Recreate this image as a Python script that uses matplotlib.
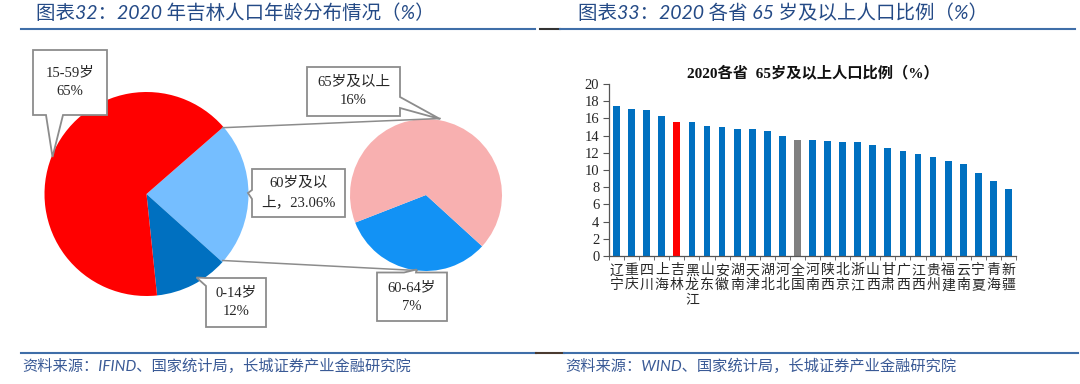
import numpy as np
import matplotlib
matplotlib.use("Agg")
import matplotlib.pyplot as plt
from matplotlib.patches import Polygon

# ---- data ----
age_groups = ["60岁及以上", "0-14岁", "15-59岁"]
age_share = [23.06, 11.71, 65.23]
old_groups = ["60-64岁", "65岁及以上"]
old_share = [7.45, 15.61]

provinces = ["辽宁", "重庆", "四川", "上海", "吉林", "黑龙江", "山东", "安徽", "湖南",
             "天津", "湖北", "河北", "全国", "河南", "陕西", "北京", "浙江", "山西",
             "甘肃", "广西", "江西", "贵州", "福建", "云南", "宁夏", "青海", "新疆"]
share_65 = [17.42, 17.08, 16.93, 16.28, 15.61, 15.61, 15.13, 15.01, 14.81,
            14.75, 14.59, 13.92, 13.50, 13.49, 13.32, 13.30, 13.27, 12.90,
            12.58, 12.20, 11.89, 11.56, 11.10, 10.75, 9.62, 8.68, 7.76]

W, H = 1080, 384
SERIF = ["Liberation Serif", "Noto Sans CJK SC"]
TITLE_FONT = ["Lato", "Noto Sans CJK SC"]
TITLE_C = "#244a86"
LINE_C = "#3f6ea8"
GREY = "#8c8c8c"

fig = plt.figure(figsize=(W / 100, H / 100), dpi=100)
ax = fig.add_axes([0, 0, 1, 1])


def py(y):
    # pixel row (top origin) -> data y
    return H - y


# ---- left: pie of pie ----
ax.pie(age_share, colors=["#75beff", "#0070c0", "#ff0000"], startangle=41.1,
       counterclock=False, radius=102, center=(146.5, py(194)),
       wedgeprops=dict(linewidth=0))
ax.pie(old_share, colors=["#1292f5", "#f8b0b0"], startangle=201.3,
       counterclock=True, radius=76, center=(426, py(195)),
       wedgeprops=dict(linewidth=0))
ax.set_xlim(0, W)
ax.set_ylim(0, H)
ax.set_aspect("auto")
ax.axis("off")

# connector lines between the two pies
ax.plot([222.7, 440], [py(127.7), py(118.5)], color=GREY, lw=1.1, zorder=3)
ax.plot([222.7, 417], [py(260.5), py(270.5)], color=GREY, lw=1.1, zorder=3)


def callout(box, side, a, b, tip, text):
    x0, y0, x1, y1 = box
    tl, tr, br, bl = (x0, y0), (x1, y0), (x1, y1), (x0, y1)
    if side == "top":
        pts = [tl, (a, y0), tip, (b, y0), tr, br, bl]
    elif side == "right":
        pts = [tl, tr, (x1, a), tip, (x1, b), br, bl]
    elif side == "bottom":
        pts = [tl, tr, br, (b, y1), tip, (a, y1), bl]
    else:
        pts = [tl, tr, br, bl, (x0, b), tip, (x0, a)]
    pts = [(x, py(y)) for x, y in pts]
    ax.add_patch(Polygon(pts, closed=True, fc="white", ec=GREY, lw=1.3, zorder=5))
    ax.text((x0 + x1) / 2, py((y0 + y1) / 2), text, ha="center", va="center",
            fontsize=10.5, family=SERIF, color="#262626", linespacing=1.55, zorder=6)


lbl = [f"{g}\n{v:.0f}%" for g, v in zip(age_groups, age_share)]
lbl[0] = "60岁及以\n上，%.2f%%" % age_share[0]
old_lbl = [f"{g}\n{v:.0f}%" for g, v in zip(old_groups, old_share)]

callout((33, 50, 107, 115), "bottom", 46, 63, (52.5, 157), lbl[2])
callout((252, 169, 345, 217), "left", 190, 199, (248, 193), lbl[0])
callout((206, 278, 266, 327), "left", 278, 286, (196.5, 277.5), lbl[1])
callout((307, 67, 400, 116), "right", 97, 108, (440, 119), old_lbl[1])
callout((377, 272.5, 447, 321), "top", 404, 416, (416.5, 269.5), old_lbl[0])

# ---- headers / footers ----
ax.text(36, py(13), "图表32：2020 年吉林人口年龄分布情况（%）", fontsize=14,
        family=TITLE_FONT, style="italic", color=TITLE_C, va="center", ha="left")
ax.text(578, py(13), "图表33：2020 各省 65 岁及以上人口比例（%）", fontsize=14,
        family=TITLE_FONT, style="italic", color=TITLE_C, va="center", ha="left")
ax.plot([21, 535], [py(29), py(29)], color=LINE_C, lw=1.5)
ax.plot([540, 560], [py(29), py(29)], color="#333333", lw=1.5)
ax.plot([560, 1075], [py(29), py(29)], color=LINE_C, lw=1.5)

ax.plot([21, 536], [py(353), py(353)], color=LINE_C, lw=1.5)
ax.plot([536, 564], [py(353), py(353)], color="#4a3a30", lw=1.5)
ax.plot([564, 1078], [py(353), py(353)], color=LINE_C, lw=1.5)
ax.text(22, py(366), "资料来源：IFIND、国家统计局，长城证券产业金融研究院", fontsize=11,
        family=TITLE_FONT, style="italic", color="#3a5a96", va="center", ha="left")
ax.text(565, py(366), "资料来源：WIND、国家统计局，长城证券产业金融研究院", fontsize=11,
        family=TITLE_FONT, style="italic", color="#3a5a96", va="center", ha="left")

# ---- right: bar chart ----
bx = fig.add_axes([609 / W, 1 - 256 / H, (1016 - 609) / W, (256 - 84) / H])
x = np.arange(len(provinces))
colors = ["#0070c0"] * len(provinces)
colors[provinces.index("吉林")] = "#ff0000"
colors[provinces.index("全国")] = "#808080"
bx.bar(x, share_65, width=0.45, color=colors, linewidth=0)
bx.set_xlim(-0.5, len(provinces) - 0.5)
bx.set_ylim(0, 20)
bx.set_yticks(np.arange(0, 21, 2))
bx.set_yticklabels([str(v) for v in range(0, 21, 2)], family=SERIF, fontsize=10.5,
                   color="#262626")
bx.set_xticks(x)
bx.set_xticklabels(["\n".join(p) for p in provinces], family=SERIF, fontsize=10,
                   color="#262626", va="top", linespacing=1.15)
bx.set_xticks(np.arange(-0.5, len(provinces), 1), minor=True)
bx.tick_params(axis="x", which="major", length=0, pad=6)
bx.tick_params(axis="x", which="minor", length=3, direction="out", color="#555555")
bx.tick_params(axis="y", length=4, direction="out", color="#555555", pad=3)
for s in ["top", "right"]:
    bx.spines[s].set_visible(False)
for s in ["left", "bottom"]:
    bx.spines[s].set_color("#555555")
    bx.spines[s].set_linewidth(0.9)
bx.set_title("2020各省  65岁及以上人口比例（%）", family=SERIF, fontsize=11,
             fontweight="bold", color="#111111", pad=5)

fig.savefig("out.png", dpi=100)
